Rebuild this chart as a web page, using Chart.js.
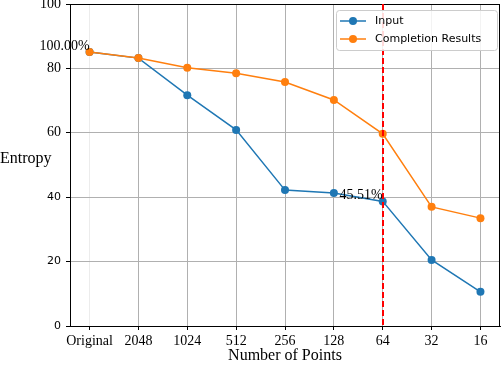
<!DOCTYPE html>
<html>
<head>
<meta charset="utf-8">
<script src="https://cdn.jsdelivr.net/npm/chart.js@4.4.1/dist/chart.umd.min.js"></script>
<style>
  body { margin: 0; background: #fff; }
  #wrap { width: 504px; height: 366px; }
</style>
</head>
<body>
<div id="wrap"><canvas id="myChart" width="504" height="366"></canvas></div>
<script>
const pointLabels = ["Original", "2048", "1024", "512", "256", "128", "64", "32", "16"];
const inputValues = [85.1, 83.2, 71.7, 60.9, 42.2, 41.3, 38.7, 20.5, 10.6];
const completionValues = [85.1, 83.2, 80.2, 78.5, 75.8, 70.2, 59.7, 37.0, 33.5];
const yTicks = [0, 20, 40, 60, 80, 100];
const cutIndex = 6; // red dashed line at "64"
const notes = [
  { index: 0, text: "100.00%" },
  { index: 6, text: "45.51%" },
];

const serif = '"Liberation Serif", "Times New Roman", serif';
const sans = '"DejaVu Sans", sans-serif';

Chart.defaults.color = "#000";

const toXY = (arr) => arr.map((v, i) => ({ x: i, y: v }));

// frame, titles, cut line, notes and legend
const extras = {
  id: "extras",
  afterDraw(chart) {
    const { ctx, chartArea: a, scales } = chart;
    const x = scales.x, y = scales.y;
    ctx.save();

    // frame
    ctx.strokeStyle = "#000";
    ctx.lineWidth = 1;
    ctx.strokeRect(a.left + 0.5, a.top + 0.5, a.right - a.left - 1, a.bottom - a.top);

    // red dashed line
    const cx = Math.round(x.getPixelForValue(cutIndex));
    ctx.strokeStyle = "#ff0000";
    ctx.lineWidth = 2;
    ctx.setLineDash([6, 3]);
    ctx.beginPath();
    ctx.moveTo(cx, a.top);
    ctx.lineTo(cx, a.bottom);
    ctx.stroke();
    ctx.setLineDash([]);

    // notes
    ctx.fillStyle = "#000";
    ctx.font = "14px " + serif;
    ctx.textAlign = "right";
    ctx.textBaseline = "bottom";
    notes.forEach((n) => {
      ctx.fillText(n.text, x.getPixelForValue(n.index), y.getPixelForValue(inputValues[n.index]) + 1);
    });

    // axis titles
    ctx.font = "16px " + serif;
    ctx.textAlign = "left";
    ctx.textBaseline = "middle";
    ctx.fillText("Entropy", 0, 159);
    ctx.textAlign = "center";
    ctx.fillText("Number of Points", (a.left + a.right) / 2, 356);

    // legend
    const lx = 336, ly = 10, lw = 161, lh = 40;
    ctx.fillStyle = "rgba(255,255,255,0.85)";
    ctx.strokeStyle = "#cccccc";
    ctx.lineWidth = 1;
    ctx.beginPath();
    ctx.roundRect(lx + 0.5, ly + 0.5, lw, lh, 3);
    ctx.fill();
    ctx.stroke();
    const items = [
      { label: "Input", color: "#1f77b4", yy: 21 },
      { label: "Completion Results", color: "#ff7f0e", yy: 39 },
    ];
    ctx.font = "11px " + sans;
    ctx.textAlign = "left";
    items.forEach((it) => {
      ctx.strokeStyle = it.color;
      ctx.lineWidth = 1.5;
      ctx.beginPath();
      ctx.moveTo(340, it.yy);
      ctx.lineTo(366, it.yy);
      ctx.stroke();
      ctx.fillStyle = it.color;
      ctx.beginPath();
      ctx.arc(353, it.yy, 4, 0, Math.PI * 2);
      ctx.fill();
      ctx.fillStyle = "#000";
      ctx.fillText(it.label, 375, it.yy);
    });
    ctx.restore();
  },
};

const ctx = document.getElementById("myChart").getContext("2d");

const myChart = new Chart(ctx, {
  type: "line",
  data: {
    datasets: [
      {
        label: "Input",
        data: toXY(inputValues),
        borderColor: "#1f77b4",
        backgroundColor: "#1f77b4",
        borderWidth: 1.5,
        pointRadius: 4,
        pointBorderWidth: 0,
        tension: 0,
        order: 1,
      },
      {
        label: "Completion Results",
        data: toXY(completionValues),
        borderColor: "#ff7f0e",
        backgroundColor: "#ff7f0e",
        borderWidth: 1.5,
        pointRadius: 4,
        pointBorderWidth: 0,
        tension: 0,
        order: 0,
      },
    ],
  },
  options: {
    responsive: false,
    animation: false,
    layout: { padding: { left: 0, right: -2, top: 4, bottom: 0 } },
    plugins: {
      legend: { display: false },
      tooltip: { enabled: false },
    },
    scales: {
      x: {
        type: "linear",
        min: -0.4,
        max: 8.4,
        afterBuildTicks: (scale) => {
          scale.ticks = pointLabels.map((_, i) => ({ value: i }));
        },
        afterFit: (scale) => {
          scale.height = 40;
          scale.paddingLeft = 0;
          scale.paddingRight = 0;
        },
        ticks: {
          autoSkip: false,
          maxRotation: 0,
          padding: 3,
          font: { family: serif, size: 14 },
          callback: (v) => pointLabels[v],
        },
        grid: {
          color: (c) => (c.tick && c.tick.value === 0 ? "#ececec" : "#b0b0b0"),
          tickColor: "#000",
          tickLength: 4,
          lineWidth: 1,
        },
        border: { color: "#000", width: 1 },
      },
      y: {
        min: 0,
        max: 100,
        afterBuildTicks: (scale) => {
          scale.ticks = yTicks.map((v) => ({ value: v }));
        },
        afterFit: (scale) => {
          scale.width = 70;
          scale.paddingTop = 0;
          scale.paddingBottom = 0;
        },
        ticks: {
          padding: 5,
          font: (c) =>
            c.tick && c.tick.value >= 60
              ? { family: serif, size: 14 }
              : { family: sans, size: 11 },
        },
        grid: {
          color: "#b0b0b0",
          tickColor: "#000",
          tickLength: 4,
          lineWidth: 1,
        },
        border: { color: "#000", width: 1 },
      },
    },
  },
  plugins: [extras],
});
</script>
</body>
</html>
